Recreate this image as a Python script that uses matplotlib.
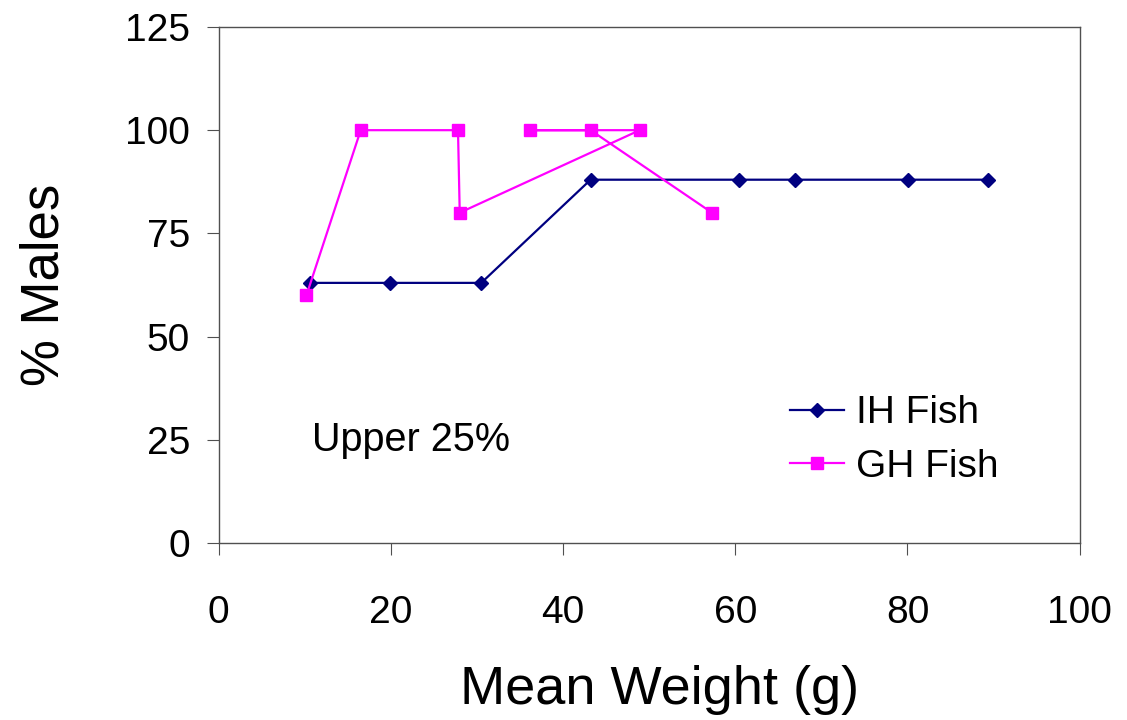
import matplotlib
matplotlib.use("Agg")
from matplotlib import pyplot as plt

plt.rcParams["font.family"] = ["Liberation Sans", "DejaVu Sans"]

# IH Fish (blue diamonds)
ih_weight = [10.6, 19.9, 30.5, 43.2, 60.4, 66.9, 80.1, 89.4]
ih_males = [63, 63, 63, 88, 88, 88, 88, 88]

# GH Fish (magenta squares), in plotted order
gh_weight = [10.2, 16.5, 27.8, 28.0, 48.9, 36.2, 43.2, 57.3]
gh_males = [60, 100, 100, 80, 100, 100, 100, 80]

x_ticks = [0, 20, 40, 60, 80, 100]
y_ticks = [0, 25, 50, 75, 100, 125]


def main():
    fig = plt.figure(figsize=(11.27, 7.2), dpi=100)
    ax = fig.add_axes([0.194, 0.246, 0.764, 0.7165])

    ax.plot(ih_weight, ih_males, color="#000080", marker="D", ms=7.2,
            lw=1.6, label="IH Fish")
    ax.plot(gh_weight, gh_males, color="#FF00FF", marker="s", ms=8,
            lw=1.6, label="GH Fish")

    ax.set_xlim(0, 100)
    ax.set_ylim(0, 125)
    ax.set_xticks(x_ticks)
    ax.set_yticks(y_ticks)

    for s in ax.spines.values():
        s.set_color("#505050")
        s.set_linewidth(1.0)

    ax.tick_params(axis="both", direction="out", length=8.5, width=0.8,
                   color="#505050", labelsize=28)
    ax.tick_params(axis="x", pad=29)
    ax.tick_params(axis="y", pad=12)
    ax.tick_params(top=False, right=False)

    ax.set_xlabel("Mean Weight (g)", fontsize=39)
    ax.xaxis.set_label_coords(0.512, -0.237)
    ax.set_ylabel("% Males", fontsize=38, labelpad=40)

    ax.text(10.8, 25, "Upper 25%", fontsize=28.5, va="center", ha="left")

    ax.legend(loc="upper left", bbox_to_anchor=(0.701, 0.451),
              bbox_transform=fig.transFigure, frameon=False, fontsize=28,
              handlelength=1.4, handletextpad=0.3, labelspacing=0.45,
              borderaxespad=0, borderpad=0)

    plt.savefig("out.png", dpi=100)


if __name__ == "__main__":
    main()
